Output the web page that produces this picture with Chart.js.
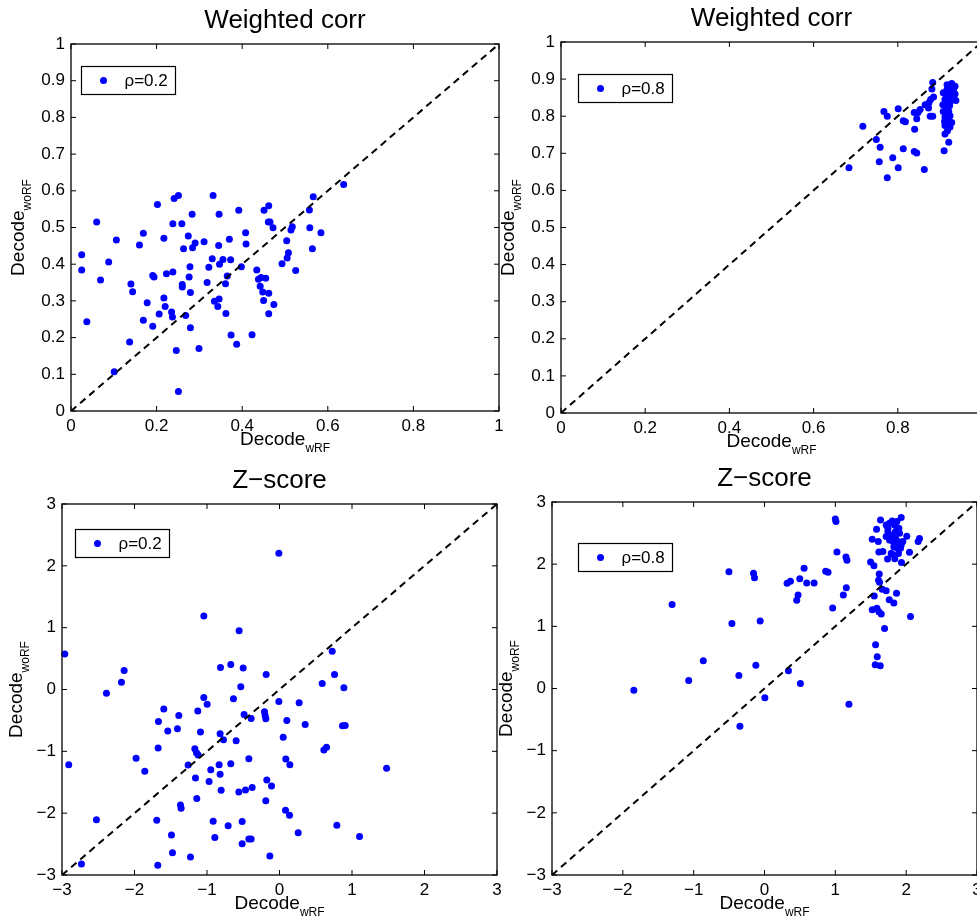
<!DOCTYPE html>
<html>
<head>
<meta charset="utf-8">
<script src="https://cdn.jsdelivr.net/npm/chart.js@4.4.0/dist/chart.umd.min.js"></script>
<style>
  html, body { margin: 0; padding: 0; background: #fff; overflow: hidden; width: 977px; height: 919px; }
  canvas { position: absolute; }
</style>
</head>
<body>
<canvas id="wcLow"></canvas>
<canvas id="wcHigh"></canvas>
<canvas id="zLow"></canvas>
<canvas id="zHigh"></canvas>
<script>
// ---- data ----
const rhoLabels = ["ρ=0.2", "ρ=0.8"];
const panelTitles = ["Weighted corr", "Z\u2212score"];

const wcTicksX = [0, 0.2, 0.4, 0.6, 0.8, 1];
const wcTicksY = [0, 0.1, 0.2, 0.3, 0.4, 0.5, 0.6, 0.7, 0.8, 0.9, 1];
const zTicks = [-3, -2, -1, 0, 1, 2, 3];
const wcDiag = [0, 1];
const zDiag = [-3, 3];

const wcLowX = [0.025,0.025,0.037,0.060,0.069,0.088,0.101,0.106,0.137,0.140,
  0.144,0.160,0.169,0.169,0.178,0.191,0.194,0.191,0.202,0.206,
  0.217,0.217,0.220,0.223,0.235,0.237,0.238,0.238,0.241,0.246,
  0.251,0.251,0.259,0.260,0.260,0.263,0.268,0.274,0.276,0.278,
  0.279,0.279,0.283,0.284,0.290,0.299,0.311,0.318,0.322,0.330,
  0.332,0.335,0.343,0.345,0.346,0.346,0.347,0.355,0.361,0.362,
  0.365,0.370,0.373,0.374,0.387,0.392,0.398,0.408,0.409,0.423,
  0.434,0.438,0.442,0.444,0.448,0.450,0.451,0.455,0.462,0.461,
  0.462,0.462,0.465,0.472,0.474,0.493,0.504,0.505,0.508,0.514,
  0.517,0.525,0.557,0.558,0.564,0.566,0.584,0.637];
const wcLowY = [0.426,0.384,0.243,0.515,0.357,0.406,0.107,0.466,0.188,0.346,
  0.325,0.452,0.484,0.247,0.295,0.369,0.365,0.231,0.563,0.264,
  0.471,0.308,0.285,0.374,0.270,0.256,0.379,0.510,0.579,0.165,
  0.587,0.053,0.510,0.345,0.338,0.442,0.260,0.477,0.365,0.393,
  0.323,0.227,0.536,0.445,0.458,0.170,0.461,0.350,0.392,0.415,
  0.587,0.299,0.285,0.451,0.305,0.536,0.400,0.413,0.347,0.266,
  0.368,0.468,0.412,0.207,0.182,0.547,0.393,0.486,0.455,0.208,
  0.384,0.359,0.340,0.364,0.324,0.301,0.547,0.362,0.559,0.515,
  0.321,0.265,0.515,0.499,0.290,0.401,0.464,0.417,0.431,0.493,
  0.502,0.383,0.548,0.499,0.442,0.584,0.486,0.617];

const wcHighX = [0.684,0.717,0.749,0.758,0.756,0.767,0.775,0.775,0.788,0.801,
  0.801,0.813,0.813,0.818,0.839,0.840,0.839,0.845,0.845,0.848,
  0.853,0.863,0.865,0.873,0.874,0.878,0.881,0.883,0.877,0.883,
  0.885,0.910,0.921,0.912,0.918,0.924,0.911,0.928,0.912,0.921,
  0.907,0.917,0.923,0.912,0.921,0.928,0.938,0.908,0.917,0.924,
  0.936,0.917,0.928,0.936,0.924,0.912,0.921,0.915,0.924,0.918,
  0.932,0.930,0.923,0.917,0.908,0.924];
const wcHighY = [0.661,0.773,0.737,0.716,0.677,0.813,0.800,0.634,0.688,0.820,
  0.661,0.712,0.788,0.785,0.810,0.765,0.705,0.701,0.793,0.810,
  0.818,0.656,0.831,0.822,0.836,0.845,0.873,0.891,0.800,0.800,
  0.852,0.707,0.730,0.752,0.761,0.771,0.786,0.783,0.798,0.813,
  0.831,0.831,0.828,0.846,0.849,0.845,0.842,0.863,0.872,0.867,
  0.860,0.885,0.888,0.881,0.879,0.775,0.771,0.818,0.801,0.790,
  0.872,0.852,0.858,0.854,0.813,0.837];

const zLowX = [-2.962,-2.907,-2.732,-2.525,-2.387,-2.180,-2.143,-1.978,-1.858,-1.693,
  -1.679,-1.670,-1.674,-1.596,-1.541,-1.490,-1.476,-1.408,-1.389,-1.366,
  -1.357,-1.260,-1.228,-1.168,-1.159,-1.141,-1.145,-1.122,-1.127,-1.090,
  -1.044,-1.044,-0.998,-0.971,-0.948,-0.915,-0.892,-0.833,-0.819,-0.814,
  -0.819,-0.805,-0.773,-0.708,-0.672,-0.672,-0.635,-0.598,-0.561,-0.557,
  -0.534,-0.515,-0.515,-0.501,-0.488,-0.469,-0.423,-0.423,-0.391,-0.391,
  -0.377,-0.207,-0.198,-0.189,-0.184,-0.189,-0.175,-0.133,-0.110,-0.009,
  -0.009,0.051,0.083,0.087,0.101,0.138,0.143,0.258,0.271,0.354,
  0.589,0.612,0.649,0.727,0.759,0.791,0.869,0.888,0.906,1.104,
  1.477];
const zLowY = [0.575,-1.215,-2.823,-2.108,-0.059,0.118,0.306,-1.113,-1.323,-2.113,
  -2.844,-0.516,-0.946,-0.317,-0.672,-2.355,-2.640,-0.634,-0.419,-1.866,
  -1.919,-1.220,-2.710,-0.957,-1.430,-1.763,-1.022,-1.059,-0.349,-0.688,
  1.188,-0.129,-0.237,-1.489,-1.296,-2.129,-2.392,-1.215,-0.715,0.355,
  -1.371,-1.629,-0.812,-2.204,0.403,-1.199,-0.151,-0.828,-1.656,0.952,
  0.043,-2.134,-2.495,0.349,-0.403,-1.624,-1.118,-2.419,-2.419,-0.468,
  -1.586,-0.360,-0.419,-0.473,0.242,-1.801,-1.462,-2.694,-1.559,-0.194,
  2.204,-0.774,-1.952,-1.124,-0.500,-2.032,-1.215,-2.317,-0.215,-0.565,
  0.097,-0.978,-0.935,0.618,0.242,-2.194,-0.586,0.027,-0.581,-2.376,
  -1.274];

const zHighX = [-1.845,-1.305,-1.070,-0.864,-0.502,-0.460,-0.362,-0.347,-0.155,-0.141,
  -0.122,-0.061,0.005,0.319,0.338,0.366,0.455,0.474,0.498,0.507,
  0.559,0.596,0.700,0.864,0.897,0.962,1.000,1.009,1.023,1.113,
  1.150,1.164,1.155,1.192,1.498,1.545,1.521,1.521,1.549,1.568,
  1.563,1.582,1.592,1.587,1.606,1.620,1.610,1.624,1.615,1.634,
  1.638,1.648,1.615,1.662,1.671,1.695,1.718,1.737,1.761,1.826,
  1.864,1.840,1.789,1.934,2.009,2.047,2.061,2.169,2.188,
  1.718,1.742,1.765,1.803,1.836,1.869,1.930,1.897,1.742,1.789,
  1.765,1.812,1.850,1.906,1.883,1.930,1.826,1.869,1.920,1.953,
  1.803,1.892,1.850,1.718];
const zHighY = [-0.027,1.353,0.129,0.446,1.880,1.047,0.209,-0.607,1.853,1.783,
  0.376,1.085,-0.150,1.692,0.285,1.724,1.418,1.504,1.767,0.081,
  1.933,1.697,1.697,1.885,1.869,1.294,2.728,2.685,2.197,1.504,
  2.116,2.062,1.622,-0.252,2.035,1.976,2.401,1.267,1.488,0.704,
  0.381,2.562,0.510,1.289,2.363,1.842,1.740,1.708,2.197,0.365,
  2.712,1.198,1.235,1.595,2.202,0.967,1.574,2.084,1.429,1.375,
  1.531,2.089,2.175,2.025,2.449,2.191,1.160,2.363,2.411,
  2.632,2.578,2.658,2.696,2.632,2.685,2.750,2.578,2.524,2.470,
  2.390,2.363,2.417,2.497,2.363,2.309,2.282,2.266,2.256,2.363,
  2.159,2.170,2.524,2.444];

// ---- drawing ----
const FONT = "'Liberation Sans', Arial, Helvetica, sans-serif";
Chart.defaults.font.family = FONT;
Chart.defaults.color = "#000";

const PAD_L = 70, PAD_T = 44, PAD_R = 30, PAD_B = 48;

const minus = v => String(v).replace("-", "\u2212");

function drawSubLabel(ctx, main, sub, x, y, rotate) {
  ctx.save();
  ctx.translate(x, y);
  if (rotate) ctx.rotate(-Math.PI / 2);
  ctx.textBaseline = "alphabetic";
  ctx.textAlign = "left";
  ctx.font = "19px " + FONT;
  const w1 = ctx.measureText(main).width;
  ctx.font = "12px " + FONT;
  const w2 = ctx.measureText(sub).width;
  const x0 = -(w1 + w2) / 2;
  ctx.font = "19px " + FONT;
  ctx.fillText(main, x0, 0);
  ctx.font = "12px " + FONT;
  ctx.fillText(sub, x0 + w1, 7);
  ctx.restore();
}

const matlabAxes = {
  id: "matlabAxes",
  afterDraw(chart, args, opts) {
    const { ctx, chartArea: a, scales } = chart;
    ctx.save();
    ctx.strokeStyle = "#000";
    ctx.lineWidth = 1.3;
    ctx.strokeRect(a.left, a.top, a.right - a.left, a.bottom - a.top);

    ctx.beginPath();
    scales.x.ticks.forEach(t => {
      const px = scales.x.getPixelForValue(t.value);
      ctx.moveTo(px, a.bottom); ctx.lineTo(px, a.bottom - 5);
      ctx.moveTo(px, a.top); ctx.lineTo(px, a.top + 5);
    });
    scales.y.ticks.forEach(t => {
      const py = scales.y.getPixelForValue(t.value);
      ctx.moveTo(a.left, py); ctx.lineTo(a.left + 5, py);
      ctx.moveTo(a.right, py); ctx.lineTo(a.right - 5, py);
    });
    ctx.lineWidth = 1;
    ctx.stroke();

    ctx.fillStyle = "#000";
    ctx.font = "26px " + FONT;
    ctx.textAlign = "center";
    ctx.textBaseline = "alphabetic";
    ctx.fillText(opts.title, (a.left + a.right) / 2, a.top - 16);

    drawSubLabel(ctx, "Decode", "wRF", (a.left + a.right) / 2, a.bottom + 34, false);
    drawSubLabel(ctx, "Decode", "woRF", a.left - opts.yLabelGap, (a.top + a.bottom) / 2, true);

    const bx = Math.round(a.left + opts.legendAt[0]) + 0.5;
    const by = Math.round(a.top + opts.legendAt[1]) + 0.5;
    ctx.fillStyle = "#fff";
    ctx.fillRect(bx, by, 94, 28);
    ctx.lineWidth = 1.2;
    ctx.strokeRect(bx, by, 94, 28);
    ctx.fillStyle = "#0000ff";
    ctx.beginPath();
    ctx.arc(bx + 22, by + 14, 3.5, 0, Math.PI * 2);
    ctx.fill();
    ctx.fillStyle = "#000";
    ctx.font = "17px " + FONT;
    ctx.textAlign = "left";
    ctx.textBaseline = "middle";
    ctx.fillText(opts.label, bx + 43, by + 15);
    ctx.restore();
  }
};

function makePanel(id, area, title, label, xs, ys, diag, ticksX, ticksY, legendAt, yLabelGap) {
  const [l, t, r, b] = area;
  const cv = document.getElementById(id);
  cv.width = r - l + PAD_L + PAD_R;
  cv.height = b - t + PAD_T + PAD_B;
  cv.style.left = (l - PAD_L) + "px";
  cv.style.top = (t - PAD_T) + "px";

  const axis = (ticks, fit, pad) => ({
    type: "linear",
    min: ticks[0],
    max: ticks[ticks.length - 1],
    afterBuildTicks: s => { s.ticks = ticks.map(v => ({ value: v })); },
    afterFit: fit,
    grid: { display: false, drawTicks: false },
    border: { display: false },
    ticks: { font: { size: 17 }, color: "#000", padding: pad, maxRotation: 0, callback: minus }
  });

  new Chart(cv, {
    type: "scatter",
    data: {
      datasets: [
        {
          data: diag.map(v => ({ x: v, y: v })),
          showLine: true,
          borderColor: "#000",
          borderWidth: 2,
          borderDash: [7, 5],
          pointRadius: 0
        },
        {
          label: label,
          data: xs.map((x, i) => ({ x: x, y: ys[i] })),
          backgroundColor: "#0000ff",
          borderWidth: 0,
          pointRadius: 3.5,
          clip: false
        }
      ]
    },
    options: {
      responsive: false,
      animation: false,
      devicePixelRatio: 1,
      layout: { padding: { left: 0, top: PAD_T, right: PAD_R, bottom: 0 } },
      scales: {
        x: axis(ticksX, s => { s.height = PAD_B; }, 5),
        y: axis(ticksY, s => { s.width = PAD_L; }, 6)
      },
      plugins: {
        legend: { display: false },
        tooltip: { enabled: false },
        matlabAxes: { title: title, label: label, legendAt: legendAt, yLabelGap: yLabelGap }
      }
    },
    plugins: [matlabAxes]
  });
}

makePanel("wcLow", [71, 44, 499, 411], panelTitles[0], rhoLabels[0], wcLowX, wcLowY, wcDiag, wcTicksX, wcTicksY, [10, 22], 47);
makePanel("wcHigh", [561, 42, 982, 413], panelTitles[0], rhoLabels[1], wcHighX, wcHighY, wcDiag, wcTicksX, wcTicksY, [17, 32], 47);
makePanel("zLow", [62, 504, 497, 875], panelTitles[1], rhoLabels[0], zLowX, zLowY, zDiag, zTicks, zTicks, [13, 25], 40);
makePanel("zHigh", [552, 502, 977, 875], panelTitles[1], rhoLabels[1], zHighX, zHighY, zDiag, zTicks, zTicks, [26, 41], 40);
</script>
</body>
</html>
